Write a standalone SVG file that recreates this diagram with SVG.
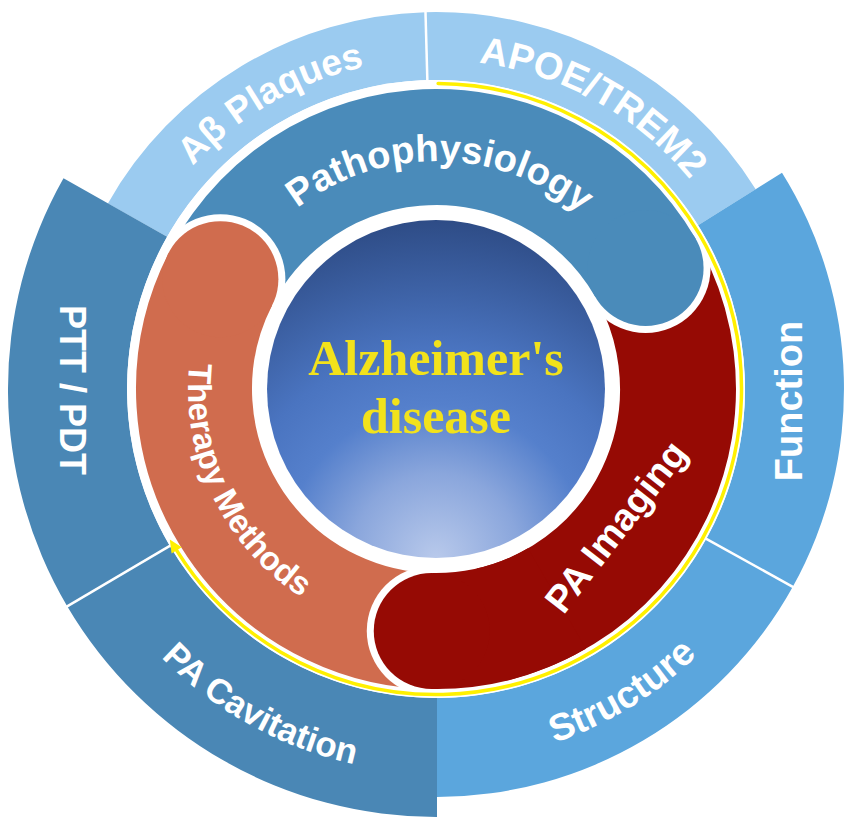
<svg xmlns="http://www.w3.org/2000/svg" width="851" height="829" viewBox="0 0 851 829">
<defs>
<style>
.lbl{font-family:"Liberation Sans",Arial,sans-serif;font-weight:bold;fill:#ffffff;}
.light{fill:#9BCBF0}
.med{fill:#5BA6DD}
.steel{fill:#4A87B5}
.div{stroke:#ffffff;stroke-width:2.5;fill:none}
.bw{fill:none;stroke:#ffffff;stroke-width:130;stroke-linecap:butt}
.bc{fill:none;stroke-width:116;stroke-linecap:butt}
.patho{stroke:#4A8BBA}
.ther{stroke:#D06C4E}
.paim{stroke:#960A04}
</style>
<radialGradient id="cg" cx="0.5" cy="1" r="1" fx="0.5" fy="1">
<stop offset="0" stop-color="#B8C9EB"/>
<stop offset="0.25" stop-color="#8AA6DC"/>
<stop offset="0.45" stop-color="#5580CC"/>
<stop offset="0.62" stop-color="#4A74C0"/>
<stop offset="1" stop-color="#2E4C86"/>
</radialGradient>
<path id="tp-ab" d="M 111.0 331.7 A 330 330 0 0 1 548.9 78.9"/>
<path id="tp-apoe" d="M 318.1 81.9 A 329 329 0 0 1 759.0 326.2"/>
<path id="tp-patho" d="M 240.6 271.6 A 228 228 0 0 1 635.4 278.5"/>
<path id="tp-ther" d="M 231.4 248.9 A 248 248 0 0 0 417.0 636.3"/>
<path id="tp-struct" d="M 348.9 751.7 A 373 373 0 0 0 798.7 476.1"/>
<path id="tp-cav" d="M 66.9 494.8 A 384 384 0 0 0 541.8 758.1"/>
</defs>
<rect width="851" height="829" fill="#ffffff"/>

<g id="node-abeta-plaques">
<path class="light" d="M 425.5 12.2 A 377 377 0 0 0 107.9 203.4 L 167.1 236.8 A 309 309 0 0 1 427.4 80.1 Z"/>
<text class="lbl" font-size="37"><textPath href="#tp-ab" startOffset="50%" text-anchor="middle">Aβ Plaques</textPath></text>
</g>
<g id="node-apoe-trem2">
<path class="light" d="M 755.7 189.2 A 377 377 0 0 0 425.5 12.2 L 427.4 80.1 A 309 309 0 0 1 698.1 225.3 Z"/>
<text class="lbl" font-size="38"><textPath href="#tp-apoe" startOffset="50%" text-anchor="middle">APOE/TREM2</textPath></text>
</g>
<g id="node-function">
<path class="med" d="M 792.8 586.8 A 408 408 0 0 0 782.0 172.8 L 698.1 225.3 A 309 309 0 0 1 706.3 538.8 Z"/>
<text class="lbl" font-size="38" text-anchor="middle" transform="translate(802 401) rotate(-90)">Function</text>
</g>
<g id="node-structure">
<path class="med" d="M 437 797 A 408 408 0 0 0 792.8 586.8 L 706.3 538.8 A 309 309 0 0 1 437 698 Z"/>
<text class="lbl" font-size="38"><textPath href="#tp-struct" startOffset="50%" text-anchor="middle">Structure</textPath></text>
</g>
<g id="node-pa-cavitation">
<path class="steel" d="M 67.2 606.2 A 428 428 0 0 0 437 817 L 437 698 A 309 309 0 0 1 169.8 545.8 Z"/>
<text class="lbl" font-size="35"><textPath href="#tp-cav" startOffset="50%" text-anchor="middle">PA Cavitation</textPath></text>
</g>
<g id="node-ptt-pdt">
<path class="steel" d="M 63.5 178.2 A 428 428 0 0 0 67.2 606.2 L 169.8 545.8 A 309 309 0 0 1 167.1 236.8 Z"/>
<text class="lbl" font-size="36" text-anchor="middle" transform="translate(60 390) rotate(90)">PTT / PDT</text>
</g>
<g id="dividers">
<line class="div" x1="427.4" y1="82" x2="425.4" y2="9"/>
<line class="div" x1="171.5" y1="544.8" x2="64.6" y2="607.8"/>
<line class="div" x1="704.5" y1="537.8" x2="795.5" y2="588.3"/>
</g>
<circle cx="436" cy="389" r="309" fill="#ffffff"/>

<g id="node-pa-imaging-body">
<path class="bw" d="M 431.78 630.96 A 242 242 0 0 0 621.38 233.44"/>
<path class="bc paim" d="M 431.78 630.96 A 242 242 0 0 0 621.38 233.44"/>
</g>
<g id="node-pathophysiology">
<circle cx="645.58" cy="268" r="65" fill="#ffffff"/>
<path class="bw" d="M 645.58 268 A 242 242 0 0 0 208.59 306.23"/>
<path class="bc patho" d="M 645.58 268 A 242 242 0 0 0 208.59 306.23"/>
<circle cx="645.58" cy="268" r="58" fill="#4A8BBA"/>
<text class="lbl" font-size="38"><textPath href="#tp-patho" startOffset="50%" text-anchor="middle">Pathophysiology</textPath></text>
</g>
<g id="node-therapy-methods">
<circle cx="220.38" cy="279.13" r="65" fill="#ffffff"/>
<path class="bw" d="M 220.38 279.13 A 242 242 0 0 0 457.09 630.08"/>
<path class="bc ther" d="M 220.38 279.13 A 242 242 0 0 0 457.09 630.08"/>
<circle cx="220.38" cy="279.13" r="58" fill="#D06C4E"/>
<text class="lbl" font-size="33"><textPath href="#tp-ther" startOffset="50%" text-anchor="middle">Therapy Methods</textPath></text>
</g>
<g id="node-pa-imaging">
<circle cx="431.78" cy="630.96" r="65" fill="#ffffff"/>
<path class="bw" d="M 431.78 630.96 A 242 242 0 0 0 490.55 623.76"/>
<path class="bc paim" d="M 431.78 630.96 A 242 242 0 0 0 557 598.58"/>
<circle cx="431.78" cy="630.96" r="58" fill="#960A04"/>
<text class="lbl" font-size="38" text-anchor="middle" transform="translate(626.3 534.5) rotate(-52.2)">PA Imaging</text>
</g>

<g id="connectors">
<path d="M 438.13 83.51 A 305.5 305.5 0 1 1 176.65 550.44" fill="none" stroke="#FFF000" stroke-width="3.5" stroke-linecap="round"/>
<polygon points="169.8,539.4 181.7,547.3 171.6,553.6" fill="#FFF000"/>
</g>

<g id="node-alzheimers">
<circle cx="436" cy="389" r="182" fill="#ffffff"/>
<circle cx="436" cy="389" r="169" fill="url(#cg)"/>
<text font-family="'Liberation Serif','Times New Roman',serif" font-weight="bold" font-size="50" fill="#F2E21B" text-anchor="middle"><tspan x="436" y="375">Alzheimer's</tspan><tspan x="436" y="433">disease</tspan></text>
</g>
</svg>
